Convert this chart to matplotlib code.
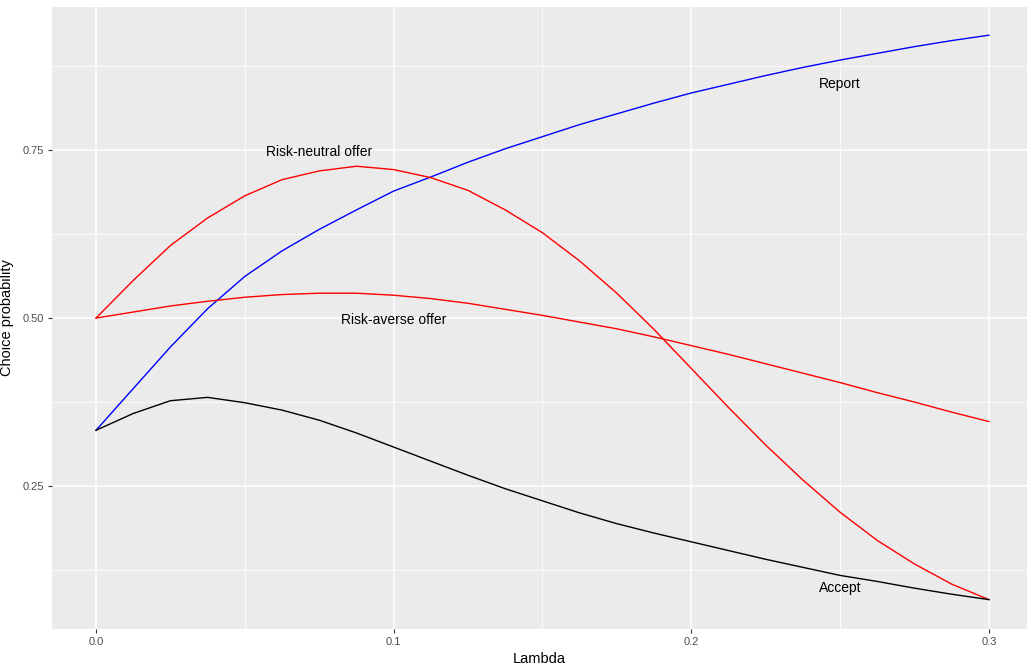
import numpy as np
import matplotlib
matplotlib.use('Agg')
import matplotlib.pyplot as plt

plt.rcParams['font.family'] = ['Liberation Sans', 'DejaVu Sans']

# Lambda grid and choice probabilities
lam = [0.0, 0.0125, 0.025, 0.0375, 0.05, 0.0625, 0.075, 0.0875, 0.1, 0.1125, 0.125,
       0.1375, 0.15, 0.1625, 0.175, 0.1875, 0.2, 0.2125, 0.225, 0.2375, 0.25,
       0.2625, 0.275, 0.2875, 0.3]
report = [0.333, 0.395, 0.457, 0.514, 0.562, 0.600, 0.632, 0.661, 0.689, 0.710, 0.732,
          0.752, 0.770, 0.788, 0.804, 0.820, 0.835, 0.848, 0.861, 0.873, 0.884,
          0.894, 0.904, 0.913, 0.921]
risk_neutral = [0.500, 0.556, 0.608, 0.649, 0.682, 0.706, 0.719, 0.726, 0.721, 0.709, 0.690,
                0.661, 0.627, 0.585, 0.537, 0.483, 0.425, 0.367, 0.311, 0.259, 0.211,
                0.169, 0.134, 0.104, 0.081]
risk_averse = [0.500, 0.509, 0.518, 0.525, 0.531, 0.535, 0.537, 0.537, 0.534, 0.529, 0.522,
               0.513, 0.504, 0.494, 0.484, 0.472, 0.459, 0.446, 0.432, 0.418, 0.404,
               0.389, 0.375, 0.360, 0.346]
accept = [0.333, 0.358, 0.377, 0.382, 0.374, 0.363, 0.348, 0.329, 0.308, 0.287, 0.266,
          0.246, 0.228, 0.210, 0.194, 0.180, 0.167, 0.154, 0.141, 0.129, 0.117,
          0.108, 0.098, 0.089, 0.081]

# label positions (x, y, text)
labels = [(0.25, 0.85, 'Report'), (0.075, 0.75, 'Risk-neutral offer'),
          (0.1, 0.5, 'Risk-averse offer'), (0.25, 0.1, 'Accept')]

fig = plt.figure(figsize=(10.27, 6.65), dpi=100)
ax = fig.add_axes([0.0506, 0.0541, 0.9494, 0.9354])
ax.set_facecolor('#EBEBEB')

ax.plot(lam, report, color='blue', lw=1.0)
ax.plot(lam, risk_neutral, color='red', lw=1.0)
ax.plot(lam, risk_averse, color='red', lw=1.0)
ax.plot(lam, accept, color='black', lw=1.0)

for x, y, t in labels:
    ax.text(x, y, t, ha='center', va='center_baseline', fontsize=10, color='black')

ax.set_xlim(-0.0148, 0.3128)
ax.set_ylim(0.0372, 0.963)
ax.set_xticks([0.0, 0.1, 0.2, 0.3])
ax.set_xticklabels(['0.0', '0.1', '0.2', '0.3'])
ax.set_yticks([0.25, 0.5, 0.75])
ax.set_yticklabels(['0.25', '0.50', '0.75'])
ax.set_xticks([0.05, 0.15, 0.25], minor=True)
ax.set_yticks([0.125, 0.375, 0.625, 0.875], minor=True)

ax.grid(which='major', color='white', lw=1.1)
ax.grid(which='minor', color='white', lw=0.55)
ax.set_axisbelow(True)
for s in ax.spines.values():
    s.set_visible(False)
ax.tick_params(which='major', length=3, width=0.8, color='#333333',
               labelsize=8, labelcolor='#4D4D4D', pad=3)
ax.tick_params(which='minor', length=0)

ax.set_xlabel('Lambda', fontsize=10.5, labelpad=3)
ax.set_ylabel('Choice probability', fontsize=10.5, labelpad=6)

fig.savefig('out.png', dpi=100)
